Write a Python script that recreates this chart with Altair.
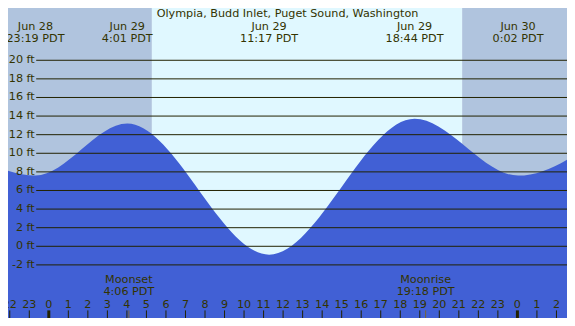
import altair as alt
import pandas as pd

# ---------------- data ----------------
title_text = "Olympia, Budd Inlet, Puget Sound, Washington"

# tide extremes, hours from Jun 29 00:00 PDT (first and last lie outside the view)
tide_hours = [-6.25, -0.683, 4.017, 11.283, 18.733, 24.033, 29.0]
tide_feet = [13.5, 7.6, 13.2, -0.9, 13.7, 7.6, 13.0]

label_hours = [-0.683, 4.017, 11.283, 18.733, 24.033]
label_dates = ["Jun 28", "Jun 29", "Jun 29", "Jun 29", "Jun 30"]
label_times = ["23:19 PDT", "4:01 PDT", "11:17 PDT", "18:44 PDT", "0:02 PDT"]

sunrise_hour, sunset_hour = 5.28, 21.17

grid_feet = list(range(-2, 22, 2))
hour_ticks = list(range(-2, 27))

moon_hours = [4.1, 19.3]
moon_events = ["Moonset", "Moonrise"]
moon_times = ["4:06 PDT", "19:18 PDT"]

x_domain = [-2.09, 26.54]
y_domain = [-7.71, 25.62]

# ---------------- style ----------------
W, H = 559, 310
KX, KY = W / 575, H / 326
def px(v): return v * KX
def py(v): return v * KY

NIGHT = "#B0C4DE"
DAY = "#E0F8FF"
WATER = "#4160D5"
LINE = "#222200"
TEXT = "#333300"
MOON = "#7A6530"
FONT = "DejaVu Sans"
FS = 11.2

xs = alt.Scale(domain=x_domain, nice=False, zero=False)
ys = alt.Scale(domain=y_domain, nice=False, zero=False)

bg_df = pd.DataFrame({
    "start": [x_domain[0], sunrise_hour, sunset_hour],
    "end": [sunrise_hour, sunset_hour, x_domain[1]],
    "fill": [NIGHT, DAY, NIGHT],
})
tide_df = pd.DataFrame({"h": tide_hours, "ft": tide_feet})
grid_df = pd.DataFrame({"ft": grid_feet, "lab": [f"{f} ft" for f in grid_feet]})
hours_df = pd.DataFrame({
    "h": hour_ticks,
    "lab": [str(h % 24) for h in hour_ticks],
    "w": [3 if h % 24 == 0 else 1 for h in hour_ticks],
})
top_df = pd.DataFrame({"h": label_hours, "txt": [d + "\n" + t for d, t in zip(label_dates, label_times)]})
moon_df = pd.DataFrame({"h": moon_hours, "txt": [e + "\n" + t for e, t in zip(moon_events, moon_times)]})
title_df = pd.DataFrame({"t": [title_text]})

X = lambda f: alt.X(f, scale=xs, axis=None)
Y = lambda f: alt.Y(f, scale=ys, axis=None)

def text_mark(**kw):
    base = dict(align="center", baseline="middle", font=FONT, fontSize=FS, color=TEXT)
    base.update(kw)
    return base

bg = alt.Chart(bg_df).mark_rect().encode(
    x=X("start:Q"), x2="end:Q",
    y=alt.value(0), y2=alt.value(H),
    color=alt.Color("fill:N", scale=None),
)

area = alt.Chart(tide_df).mark_area(interpolate="monotone", clip=True, color=WATER).encode(
    x=X("h:Q"), y=Y("ft:Q"), y2=alt.datum(y_domain[0]),
)

grid = alt.Chart(grid_df).mark_rule(color=LINE, strokeWidth=1).encode(
    y=Y("ft:Q"), x=alt.value(px(29)), x2=alt.value(W),
)

ylab = alt.Chart(grid_df).mark_text(**text_mark(align="right")).encode(
    y=Y("ft:Q"), x=alt.value(px(27.5)), text="lab:N",
)

hlab = alt.Chart(hours_df).mark_text(**text_mark()).encode(
    x=X("h:Q"), y=alt.value(py(312)), text="lab:N",
)

hticks = alt.Chart(hours_df).mark_rule(color=LINE).encode(
    x=X("h:Q"), y=alt.value(py(318)), y2=alt.value(H),
    strokeWidth=alt.StrokeWidth("w:Q", scale=None),
)

mticks = alt.Chart(moon_df).mark_rule(color=MOON, strokeWidth=1).encode(
    x=X("h:Q"), y=alt.value(py(318)), y2=alt.value(H),
)

mlab = alt.Chart(moon_df).mark_text(**text_mark(lineBreak="\n", lineHeight=12)).encode(
    x=X("h:Q"), y=alt.value(py(286.5)), text="txt:N",
)

tlab = alt.Chart(top_df).mark_text(**text_mark(lineBreak="\n", lineHeight=12)).encode(
    x=X("h:Q"), y=alt.value(py(20)), text="txt:N",
)

title = alt.Chart(title_df).mark_text(**text_mark()).encode(
    x=alt.value(W / 2), y=alt.value(py(6.5)), text="t:N",
)

chart = alt.layer(
    bg, area, grid, ylab, hticks, mticks, hlab, mlab, tlab, title
).properties(
    width=W, height=H, padding=0, autosize=alt.AutoSizeParams(type="none"), background="white",
).configure_view(stroke=None)

chart.save("out.html", embed_options={"renderer": "svg", "actions": False})
